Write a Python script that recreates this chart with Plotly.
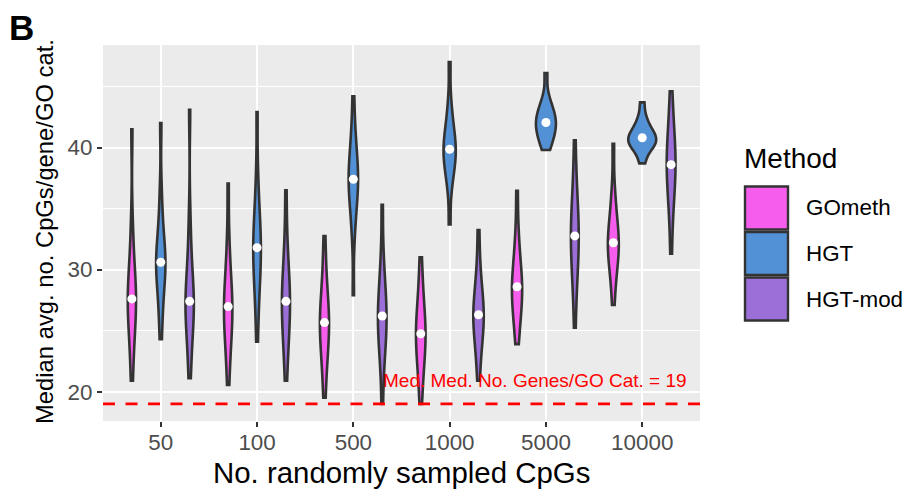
import numpy as np
import plotly.graph_objects as go

# ---------------- data ----------------
categories = ["50", "100", "500", "1000", "5000", "10000"]
methods = ["GOmeth", "HGT", "HGT-mod"]
method_colors = ["#F65DEC", "#5291D6", "#9B6ED8"]
median_genes_per_cat = 19

# approximate distribution samples (quantiles) per sample size
gometh = [
    [20.9, 23.0, 24.3, 25.2, 26.0, 26.7, 27.2, 27.6, 28.1, 28.7, 29.4, 30.3, 31.6, 33.8, 41.5],
    [20.55, 22.5, 23.7, 24.6, 25.3, 25.9, 26.5, 26.97, 27.4, 28.0, 28.7, 29.6, 30.9, 32.8, 37.05],
    [19.5, 21.4, 22.5, 23.4, 24.1, 24.7, 25.2, 25.66, 26.1, 26.6, 27.2, 28.0, 29.0, 30.5, 32.76],
    [19.0, 20.8, 21.8, 22.6, 23.3, 23.9, 24.3, 24.75, 25.2, 25.7, 26.3, 27.0, 27.9, 29.2, 31.0],
    [23.9, 25.2, 26.0, 26.7, 27.3, 27.8, 28.2, 28.6, 29.0, 29.5, 30.1, 30.9, 31.9, 33.4, 36.45],
    [27.1, 28.9, 29.8, 30.5, 31.1, 31.6, 31.9, 32.2, 32.6, 33.1, 33.7, 34.4, 35.3, 36.7, 40.3],
]
hgt = [
    [24.3, 26.2, 27.5, 28.5, 29.3, 29.9, 30.3, 30.6, 31.0, 31.5, 32.2, 33.1, 34.4, 36.5, 42.0],
    [24.1, 26.6, 28.0, 29.1, 29.9, 30.6, 31.2, 31.8, 32.3, 32.9, 33.6, 34.5, 35.8, 37.8, 42.9],
    [27.9, 32.5, 34.2, 35.2, 35.9, 36.5, 37.0, 37.4, 37.8, 38.3, 38.9, 39.6, 40.5, 41.8, 44.2],
    [33.7, 36.6, 37.6, 38.3, 38.8, 39.2, 39.5, 39.86, 40.2, 40.6, 41.1, 41.7, 42.5, 43.8, 47.0],
    [39.8, 40.3, 40.7, 41.0, 41.3, 41.6, 41.8, 42.05, 42.3, 42.5, 42.8, 43.1, 43.5, 44.1, 46.1],
    [38.7, 39.5, 39.9, 40.15, 40.3, 40.45, 40.6, 40.8, 40.95, 41.1, 41.35, 41.65, 42.0, 42.6, 43.7],
]
hgt_mod = [
    [21.1, 23.0, 24.3, 25.2, 25.9, 26.5, 27.0, 27.4, 27.9, 28.5, 29.3, 30.3, 31.8, 34.2, 43.1],
    [20.9, 22.8, 24.0, 24.9, 25.6, 26.3, 26.9, 27.4, 27.9, 28.5, 29.2, 30.0, 31.2, 33.0, 36.5],
    [19.0, 21.8, 23.0, 23.9, 24.6, 25.2, 25.7, 26.2, 26.7, 27.3, 27.9, 28.7, 29.8, 31.5, 35.3],
    [20.9, 22.6, 23.6, 24.4, 25.0, 25.5, 25.9, 26.3, 26.7, 27.2, 27.7, 28.4, 29.3, 30.7, 33.25],
    [25.25, 27.8, 29.1, 30.1, 30.9, 31.6, 32.2, 32.76, 33.3, 33.9, 34.6, 35.4, 36.5, 38.0, 40.6],
    [31.3, 33.9, 35.2, 36.2, 36.9, 37.6, 38.1, 38.6, 39.1, 39.6, 40.2, 40.9, 41.8, 43.0, 44.6],
]
series = [gometh, hgt, hgt_mod]

# ---------------- layout constants (pixels) ----------------
W, H = 912, 491
PL, PR, PT, PB = 103, 700, 45, 421
FONT = "Liberation Sans, Arial, Helvetica, sans-serif"
DODGE = 0.3
MAX_WIDTH = 0.29


def px_x(px):
    return (px - PL) / (PR - PL)


def px_y(py):
    return (PB - py) / (PB - PT)


def bandwidth(v):
    v = np.asarray(v, float)
    sd = v.std(ddof=1)
    q75, q25 = np.percentile(v, [75, 25])
    s = min(sd, (q75 - q25) / 1.349)
    return 1.059 * s * len(v) ** (-0.2)


def peak_density(v, h):
    v = np.asarray(v, float)
    grid = np.linspace(v.min(), v.max(), 400)
    d = np.exp(-0.5 * ((grid[:, None] - v[None, :]) / h) ** 2).sum(axis=1)
    d /= len(v) * h * np.sqrt(2 * np.pi)
    return d.max()


bws = [[bandwidth(v) for v in s] for s in series]
peaks = [[peak_density(v, h) for v, h in zip(s, hs)] for s, hs in zip(series, bws)]
gmax = max(max(p) for p in peaks)

fig = go.Figure()
for mi, (name, col, s) in enumerate(zip(methods, method_colors, series)):
    for ci, vals in enumerate(s):
        pos = ci + (mi - 1) * DODGE
        fig.add_trace(go.Violin(
            x0=pos, y=vals, name=name, legendgroup=name,
            showlegend=False, orientation="v",
            width=MAX_WIDTH * peaks[mi][ci] / gmax,
            scalemode="width", spanmode="hard", bandwidth=bws[mi][ci],
            points=False, box_visible=False, meanline_visible=False,
            fillcolor=col, opacity=1,
            line=dict(color="#333333", width=2.6),
            hoverinfo="skip",
        ))

# median points
mx, my = [], []
for mi, s in enumerate(series):
    for ci, vals in enumerate(s):
        mx.append(ci + (mi - 1) * DODGE)
        my.append(float(np.median(vals)))
fig.add_trace(go.Scatter(x=mx, y=my, mode="markers",
                         marker=dict(color="white", size=9, line=dict(width=0)),
                         showlegend=False, hoverinfo="skip"))

# y-range like ggplot (5 % expansion incl. reference line)
all_vals = [v for s in series for l in s for v in l] + [median_genes_per_cat]
lo, hi = min(all_vals), max(all_vals)
pad = 0.05 * (hi - lo)

fig.add_shape(type="line", xref="x domain", x0=0, x1=1,
              yref="y", y0=median_genes_per_cat, y1=median_genes_per_cat,
              line=dict(color="#FF0000", width=2.6, dash="12px,10.5px"),
              layer="above")

fig.add_annotation(xref="paper", yref="y", x=px_x(689), y=median_genes_per_cat + 1.9,
                   xanchor="right", yanchor="middle", showarrow=False,
                   text=f"Med. Med. No. Genes/GO Cat. = {median_genes_per_cat}",
                   font=dict(family=FONT, size=19, color="#FF0000"))

# axis titles
fig.add_annotation(xref="paper", yref="paper", x=0.5, y=px_y(472),
                   xanchor="center", yanchor="middle", showarrow=False,
                   text="No. randomly sampled CpGs",
                   font=dict(family=FONT, size=29.4, color="black"))
fig.add_annotation(xref="paper", yref="paper", x=px_x(44), y=px_y(232),
                   xanchor="center", yanchor="middle", showarrow=False,
                   textangle=-90, text="Median avg. no. CpGs/gene/GO cat.",
                   font=dict(family=FONT, size=23.8, color="black"))
# panel tag
fig.add_annotation(xref="paper", yref="paper", x=px_x(7), y=px_y(28),
                   xanchor="left", yanchor="middle", showarrow=False,
                   text="<b>B</b>", font=dict(family=FONT, size=35, color="black"))

# manual ggplot-style legend
fig.add_annotation(xref="paper", yref="paper", x=px_x(742), y=px_y(158),
                   xanchor="left", yanchor="middle", showarrow=False,
                   text="Method", font=dict(family=FONT, size=28, color="black"))
key_top, key_h, key_gap = 186.5, 43, 2.5
for i, (name, col) in enumerate(zip(methods, method_colors)):
    t = key_top + i * (key_h + key_gap)
    fig.add_shape(type="rect", xref="paper", yref="paper",
                  x0=px_x(745), x1=px_x(788), y0=px_y(t), y1=px_y(t + key_h),
                  fillcolor=col, line=dict(color="#333333", width=2.4), layer="above")
    fig.add_annotation(xref="paper", yref="paper", x=px_x(804), y=px_y(t + key_h / 2),
                       xanchor="left", yanchor="middle", showarrow=False,
                       text=name, font=dict(family=FONT, size=22.4, color="black"))

fig.update_layout(
    width=W, height=H,
    margin=dict(l=PL, r=W - PR, t=PT, b=H - PB, pad=0),
    plot_bgcolor="#EBEBEB", paper_bgcolor="white",
    showlegend=False, violinmode="overlay",
    font=dict(family=FONT),
    xaxis=dict(range=[-0.6, len(categories) - 0.4],
               tickmode="array", tickvals=list(range(len(categories))),
               ticktext=categories, showgrid=True, gridcolor="white", gridwidth=2,
               zeroline=False, showline=False, ticks="outside", ticklen=5,
               tickwidth=1.6, tickcolor="#333333", ticklabelstandoff=-4,
               tickfont=dict(family=FONT, size=22.4, color="#4D4D4D")),
    yaxis=dict(range=[lo - pad, hi + pad], tickmode="linear", tick0=0, dtick=10,
               showgrid=True, gridcolor="white", gridwidth=2,
               minor=dict(dtick=5, tick0=0, showgrid=True, gridcolor="white", gridwidth=1),
               zeroline=False, showline=False, ticks="outside", ticklen=5,
               tickwidth=1.6, tickcolor="#333333",
               tickfont=dict(family=FONT, size=22.4, color="#4D4D4D")),
)

fig.write_html("out.html")
